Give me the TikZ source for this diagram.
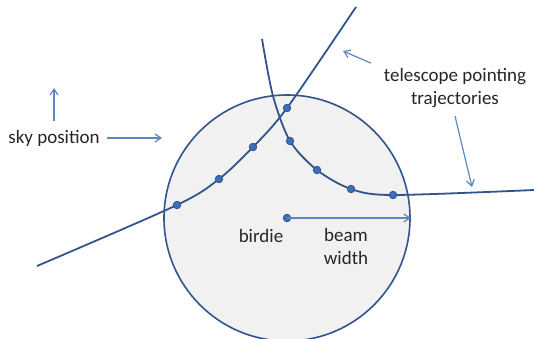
\documentclass[tikz,border=0pt]{standalone}
\usepackage{fontspec}
\setmainfont{Carlito}
\usetikzlibrary{arrows.meta, positioning}
\definecolor{trajblue}{RGB}{49,84,140}
\definecolor{dotblue}{RGB}{62,110,186}
\definecolor{noteblue}{RGB}{92,136,190}
\definecolor{beamgray}{RGB}{241,241,241}

\begin{document}
\begin{tikzpicture}[
  x=1pt, y=-1pt,
  beam/.style={circle, draw=trajblue, line width=1.6pt, fill=beamgray,
               minimum size=246pt, inner sep=0pt},
  traj/.style={draw=trajblue, line width=1.8pt},
  pt/.style={circle, fill=dotblue, draw=trajblue, line width=0.8pt,
             minimum size=7.5pt, inner sep=0pt},
  note/.style={-{Straight Barb[length=6pt, width=8pt]}, draw=noteblue,
               line width=1.2pt},
  lbl/.style={font=\fontsize{19}{23}\selectfont, text=black!85,
              align=center, inner sep=0pt}
]
  \useasboundingbox (0,0) rectangle (534,339);
  \clip (0,0) rectangle (534,339);

  %% --- Beam circle ---
  \node[beam] (beam) at (287,218) {};

  %% --- Trajectory points ---
  \coordinate (s1) at (37,266);
  \coordinate (a1) at (177,205);
  \coordinate (a2) at (219,179);
  \coordinate (a3) at (253,147);
  \coordinate (a4) at (287,108);
  \coordinate (e1) at (356,7);

  \coordinate (s2) at (262,39);
  \coordinate (m2) at (273,96);
  \coordinate (b1) at (290,141);
  \coordinate (b2) at (317,170);
  \coordinate (b3) at (351,189);
  \coordinate (b4) at (393,195);
  \coordinate (e2) at (534,190);

  %% --- Trajectories ---
  \draw[traj] plot[smooth] coordinates {(s1) (a1) (a2) (a3) (a4) (e1)};
  \draw[traj] plot[smooth] coordinates {(s2) (m2) (b1) (b2) (b3) (b4) (e2)};

  %% --- Samples on the trajectories ---
  \foreach \p in {a1,a2,a3,a4,b1,b2,b3,b4}
    \node[pt] (d\p) at (\p) {};

  %% --- Birdie at the beam centre ---
  \node[pt] (birdie) at (beam.center) {};

  %% --- Labels ---
  \node[lbl] (sky)   at (54,138)  {sky position};
  \node[lbl] (tel)   at (455,88)  {telescope pointing\\trajectories};
  \node[lbl] (bname) at (261,236) {birdie};
  \node[lbl] (bw)    at (346,246) {beam\\width};

  %% --- Arrow ends ---
  \coordinate (skyup)  at (54,88);
  \coordinate (skyend) at (162,138);
  \coordinate (telup)  at (343,51);
  \coordinate (teldn)  at (472,187);

  %% --- Arrows ---
  \draw[note] ([yshift=9pt]sky.north) -- (skyup);
  \draw[note] ([xshift=7pt]sky.east) -- (skyend);
  \draw[note] ([xshift=-13pt,yshift=5pt]tel.north west) -- (telup);
  \draw[note] ([yshift=-8pt]tel.south) -- (teldn);
  \draw[note] (birdie.center) -- (beam.east);

\end{tikzpicture}
\end{document}
